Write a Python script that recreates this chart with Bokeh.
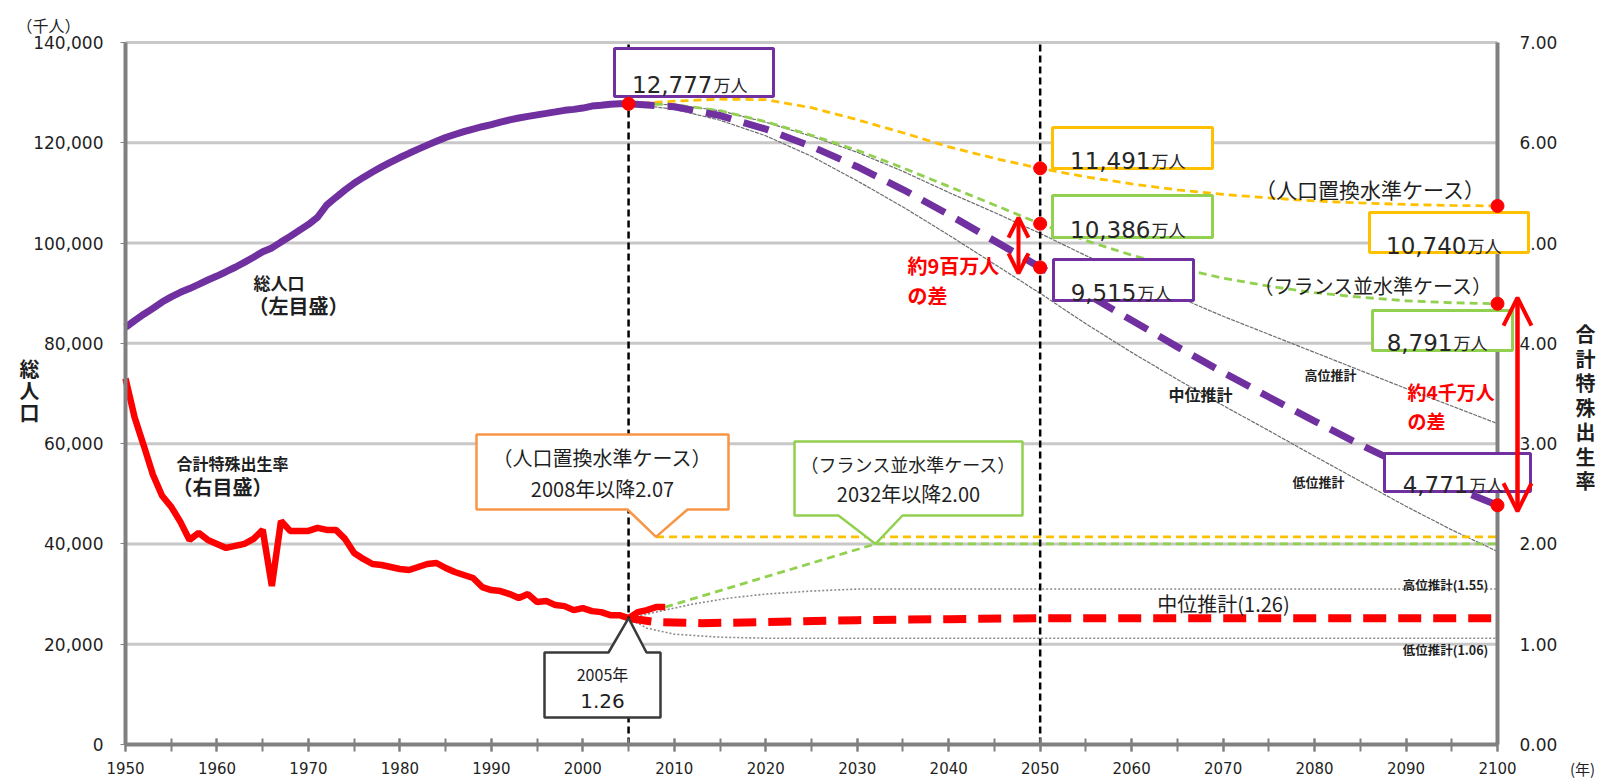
from bokeh.plotting import figure
from bokeh.models import (Range1d, LinearAxis, FixedTicker, NumeralTickFormatter, Label,
                          Arrow, OpenHead, PolyAnnotation, BoxAnnotation)
from bokeh.embed import file_html
from bokeh.resources import INLINE

# ---------------- data ----------------
# total population, thousands (actual)
years_actual = list(range(1950, 2006))
pop_actual = [83200, 84541, 85808, 86981, 88239, 89276, 90172, 90928, 91767, 92641,
              93419, 94287, 95181, 96156, 97182, 98275, 99036, 100196, 101331, 102536,
              103720, 105145, 107595, 109104, 110573, 111940, 113094, 114165, 115190, 116155,
              117060, 117902, 118728, 119536, 120305, 121049, 121660, 122239, 122745, 123205,
              123611, 124101, 124567, 124938, 125265, 125570, 125859, 126157, 126472, 126667,
              126926, 127316, 127486, 127694, 127787, 127768]

# total fertility rate (actual)
tfr_years = list(range(1950, 2010))
tfr_actual = [3.65, 3.26, 2.98, 2.69, 2.48, 2.37, 2.22, 2.04, 2.11, 2.04,
              2.00, 1.96, 1.98, 2.00, 2.05, 2.14, 1.58, 2.23, 2.13, 2.13,
              2.13, 2.16, 2.14, 2.14, 2.05, 1.91, 1.85, 1.80, 1.79, 1.77,
              1.75, 1.74, 1.77, 1.80, 1.81, 1.76, 1.72, 1.69, 1.66, 1.57,
              1.54, 1.53, 1.50, 1.46, 1.50, 1.42, 1.43, 1.39, 1.38, 1.34,
              1.36, 1.33, 1.32, 1.29, 1.29, 1.26, 1.32, 1.34, 1.37, 1.37]

# projected population, thousands
proj_years = [2005, 2010, 2015, 2020, 2025, 2030, 2035, 2040, 2045, 2050,
              2055, 2060, 2065, 2070, 2075, 2080, 2085, 2090, 2095, 2100]
pop_medium = [127768, 127176, 125430, 122735, 119270, 115224, 110679, 105695, 100443, 95152,
              89930, 84600, 79300, 74200, 69300, 64500, 59800, 55400, 51400, 47710]
pop_high = [127768, 127600, 126400, 124100, 121300, 118100, 114300, 110100, 106100, 101930,
            97500, 93300, 89300, 85400, 81800, 78200, 74600, 71000, 67500, 64000]
pop_low = [127768, 126700, 124500, 121400, 117300, 112400, 107200, 101600, 95800, 89970,
           83900, 78200, 72800, 67600, 62600, 57500, 52500, 47500, 42800, 38500]
pop_replacement = [127768, 128300, 128700, 128600, 127000, 124600, 122000, 119200, 116900, 114910,
                   113200, 111800, 110600, 109700, 109000, 108400, 108000, 107700, 107500, 107400]
pop_france = [127768, 127600, 126400, 124200, 121500, 118500, 115000, 111300, 107600, 103860,
              100500, 97600, 95100, 93000, 91400, 90100, 89200, 88500, 88100, 87910]

# projected fertility
tfr_med_years = [2005, 2008, 2013, 2020, 2030, 2040, 2050, 2100]
tfr_medium = [1.26, 1.22, 1.21, 1.22, 1.24, 1.25, 1.26, 1.26]
tfr_high_years = [2005, 2008, 2012, 2016, 2020, 2025, 2030, 2100]
tfr_high = [1.26, 1.32, 1.40, 1.46, 1.50, 1.53, 1.55, 1.55]
tfr_low_years = [2005, 2007, 2010, 2015, 2020, 2030, 2100]
tfr_low = [1.26, 1.16, 1.10, 1.07, 1.06, 1.06, 1.06]
tfr_repl_years = [2008, 2100]
tfr_repl = [2.07, 2.07]
tfr_france_years = [2009, 2032, 2100]
tfr_france = [1.37, 2.00, 2.00]

x_ticks = [1950, 1960, 1970, 1980, 1990, 2000, 2010, 2020, 2030, 2040, 2050, 2060, 2070, 2080, 2090, 2100]
x_minor = list(range(1950, 2101, 5))
pop_ticks = [0, 20000, 40000, 60000, 80000, 100000, 120000, 140000]
tfr_ticks = [0, 1, 2, 3, 4, 5, 6, 7]
ref_years = [2005, 2050]

# ---------------- layout ----------------
# the plotting frame fills the whole canvas; axes sit at fixed data locations
W, H = 1599, 779
FL, FR, FT, FB = 125, 1497, 42, 744      # pixel edges of the 1950-2100 x 0-140,000 area
X0, X1 = 1950, 2100
Y0, Y1 = 0, 140000
T1 = 7.0

def xd(px):
    return X0 + (px - FL) * (X1 - X0) / (FR - FL)

def yd(py):
    return Y0 + (FB - py) * (Y1 - Y0) / (FB - FT)

def td(py):
    return (FB - py) * T1 / (FB - FT)

def xp(year):
    return FL + (year - X0) * (FR - FL) / (X1 - X0)

def yp_tfr(v):
    return FB - v / T1 * (FB - FT)

PURPLE = "#7030A0"
RED = "#FF0000"
ORANGE = "#FFC000"
ORANGE_BOX = "#F79646"
GREEN = "#92D050"
GREY_LINE = "#6E6E6E"
AXIS = "#808080"
TEXT = "#1F1F1F"
JP = "Noto Sans CJK JP"
NUM = "DejaVu Sans"

p = figure(width=W, height=H, output_backend="svg", toolbar_location=None,
           x_range=Range1d(xd(0), xd(W)), y_range=Range1d(yd(H), yd(0)),
           min_border=0, x_axis_location=None, y_axis_location=None)
p.extra_y_ranges = {"tfr": Range1d(td(H), td(0))}
p.background_fill_color = "white"
p.border_fill_color = "white"
p.outline_line_color = None
p.xgrid.visible = False
p.ygrid.visible = False

ax = LinearAxis(fixed_location=0, bounds=(X0, X1), ticker=FixedTicker(ticks=x_ticks, minor_ticks=x_minor))
ax.axis_line_color = AXIS
ax.axis_line_width = 4
ax.major_tick_line_color = AXIS
ax.minor_tick_line_color = AXIS
ax.major_tick_line_width = 2
ax.minor_tick_line_width = 2
ax.major_tick_in = 6
ax.major_tick_out = 7
ax.minor_tick_in = 6
ax.minor_tick_out = 7
ax.major_label_standoff = 10
ax.major_label_text_font = NUM
ax.major_label_text_font_size = "15px"
ax.major_label_text_color = TEXT
p.add_layout(ax, "below")

ay = LinearAxis(fixed_location=X0, bounds=(Y0, Y1), ticker=FixedTicker(ticks=pop_ticks),
                formatter=NumeralTickFormatter(format="0,0"))
ay.axis_line_color = AXIS
ay.axis_line_width = 4
ay.major_tick_line_color = AXIS
ay.major_tick_in = 0
ay.major_tick_out = 5
ay.minor_tick_line_color = None
ay.major_label_standoff = 17
ay.major_label_text_font = NUM
ay.major_label_text_font_size = "17px"
ay.major_label_text_color = TEXT
p.add_layout(ay, "left")

ar = LinearAxis(y_range_name="tfr", fixed_location=X1, bounds=(0, T1),
                ticker=FixedTicker(ticks=tfr_ticks), formatter=NumeralTickFormatter(format="0.00"))
ar.axis_line_color = AXIS
ar.axis_line_width = 4
ar.major_tick_line_color = None
ar.minor_tick_line_color = None
ar.major_label_standoff = 16
ar.major_label_text_font = NUM
ar.major_label_text_font_size = "17px"
ar.major_label_text_color = TEXT
p.add_layout(ar, "right")

# horizontal grid lines (the top one closes the frame)
p.segment(x0=X0, x1=X1, y0=pop_ticks[1:], y1=pop_ticks[1:], line_color="#C8C8C8", line_width=3)

# ---------------- lines ----------------
# high / low variants (thin grey)
p.line(proj_years, pop_high, line_color=GREY_LINE, line_width=1.2, line_dash="4 1")
p.line(proj_years, pop_low, line_color=GREY_LINE, line_width=1.2, line_dash="4 1")
p.line(tfr_high_years, tfr_high, y_range_name="tfr", line_color="#8C8C8C", line_width=1.6, line_dash="2 2")
p.line(tfr_low_years, tfr_low, y_range_name="tfr", line_color="#8C8C8C", line_width=1.6, line_dash="2 2")

# replacement-level and France-level cases
p.line(proj_years, pop_replacement, line_color=ORANGE, line_width=2.8, line_dash="8 5")
p.line(proj_years, pop_france, line_color=GREEN, line_width=2.8, line_dash="8 5")
p.line(tfr_repl_years, tfr_repl, y_range_name="tfr", line_color=ORANGE, line_width=2.8, line_dash="8 5")
p.line(tfr_france_years, tfr_france, y_range_name="tfr", line_color=GREEN, line_width=2.8, line_dash="8 5")

# medium variant (thick dashed)
p.line(proj_years, pop_medium, line_color=PURPLE, line_width=7, line_dash="26 13")
p.line(tfr_med_years, tfr_medium, y_range_name="tfr", line_color=RED, line_width=8, line_dash="23 12")

# actual series
p.line(years_actual, pop_actual, line_color=PURPLE, line_width=7)
p.line(tfr_years, tfr_actual, y_range_name="tfr", line_color=RED, line_width=6.5)

# reference years
p.segment(x0=ref_years, x1=ref_years, y0=Y0, y1=Y1, line_color="black", line_width=2.5, line_dash="7 4")

# ---------------- callouts ----------------
def callout(left, top, right, bottom, base_l, base_r, tip_x, tip_y, color, down=True):
    if down:
        pts = [(left, top), (right, top), (right, bottom), (base_r, bottom), (tip_x, tip_y),
               (base_l, bottom), (left, bottom)]
    else:
        pts = [(left, top), (base_l, top), (tip_x, tip_y), (base_r, top), (right, top),
               (right, bottom), (left, bottom)]
    p.add_layout(PolyAnnotation(xs=[xd(a) for a, _ in pts], ys=[yd(b) for _, b in pts],
                                fill_color="white", fill_alpha=1.0, line_color=color,
                                line_width=2.5, line_alpha=1.0))

def text(px, py, s, size, color=TEXT, font=JP, style="normal", align="center", baseline="middle"):
    p.add_layout(Label(x=xd(px), y=yd(py), text=s, text_font=font, text_font_size=f"{size}px",
                       text_color=color, text_font_style=style, text_align=align,
                       text_baseline=baseline))

# replacement-level case, from 2008
tx, ty = xp(tfr_repl_years[0]), yp_tfr(tfr_repl[0])
callout(476, 434, 728, 509, 627, 687, tx, ty, ORANGE_BOX)
text(602, 457, "（人口置換水準ケース）", 20)
text(602, 488, f"{tfr_repl_years[0]}年以降{tfr_repl[0]:.2f}", 20)

# France-level case, from 2032
tx, ty = xp(tfr_france_years[1]), yp_tfr(tfr_france[1])
callout(794, 441, 1022, 515, 838, 902, tx, ty, GREEN)
text(908, 463, "（フランス並水準ケース）", 18)
text(908, 493, f"{tfr_france_years[1]}年以降{tfr_france[1]:.2f}", 20)

# 2005 actual fertility
i05 = tfr_years.index(2005)
tx, ty = xp(years_actual[-1]), yp_tfr(tfr_actual[i05])
callout(544, 652, 660, 717, 608, 646, tx, ty, "#3A3A3A", down=False)
text(602, 673, f"{years_actual[-1]}年", 16)
text(602, 700, f"{tfr_actual[i05]:.2f}", 20, font=NUM)

# ---------------- value boxes ----------------
def man(v):
    return f"{round(v / 10):,}"

def value_box(left, top, right, bottom, split, baseline, v, color):
    p.add_layout(BoxAnnotation(left=xd(left), right=xd(right), top=yd(top), bottom=yd(bottom),
                               fill_color="white", fill_alpha=1.0, line_color=color,
                               line_width=3, line_alpha=1.0))
    p.add_layout(Label(x=xd(split), y=yd(baseline), text=man(v), text_font=NUM,
                       text_font_size="23px", text_color="#262626", text_align="right",
                       text_baseline="alphabetic"))
    p.add_layout(Label(x=xd(split + 1), y=yd(baseline), text="万人", text_font=JP,
                       text_font_size="17px", text_color="#262626", text_align="left",
                       text_baseline="alphabetic"))

i50 = proj_years.index(2050)
value_box(614, 48, 773, 96, 712, 84, pop_actual[-1], PURPLE)
value_box(1052, 127, 1212, 168, 1150, 160, pop_replacement[i50], ORANGE)
value_box(1052, 195, 1212, 237, 1150, 229, pop_france[i50], GREEN)
value_box(1053, 259, 1193, 300, 1136, 292, pop_medium[i50], PURPLE)
value_box(1369, 212, 1528, 252, 1466, 245, pop_replacement[-1], ORANGE)
value_box(1372, 310, 1512, 350, 1452, 342, pop_france[-1], GREEN)
value_box(1384, 453, 1530, 491, 1468, 484, pop_medium[-1], PURPLE)

# end-point markers
p.scatter([2005, 2050, 2050, 2050, 2100, 2100, 2100],
          [pop_actual[-1], pop_replacement[i50], pop_france[i50], pop_medium[i50],
           pop_replacement[-1], pop_france[-1], pop_medium[-1]],
          size=13, color=RED, level="overlay")

# gap arrows
ext = yd(FB - 6) - yd(FB)
p.add_layout(Arrow(x_start=xd(1018), y_start=pop_medium[i50] - ext, x_end=xd(1018), y_end=pop_france[i50] + ext,
                   start=OpenHead(size=20, line_color=RED, line_width=4),
                   end=OpenHead(size=20, line_color=RED, line_width=4),
                   line_color=RED, line_width=4))
p.add_layout(Arrow(x_start=xd(1517), y_start=pop_medium[-1] - ext, x_end=xd(1517), y_end=pop_france[-1] + ext,
                   start=OpenHead(size=28, line_color=RED, line_width=4),
                   end=OpenHead(size=28, line_color=RED, line_width=4),
                   line_color=RED, line_width=4.5))

# ---------------- text annotations ----------------
text(907, 265, "約9百万人", 20, color=RED, style="bold", align="left")
text(907, 295, "の差", 20, color=RED, style="bold", align="left")
text(1407, 391, "約4千万人", 19, color=RED, style="bold", align="left")
text(1407, 420, "の差", 19, color=RED, style="bold", align="left")

text(253, 282, "総人口", 17, style="bold", align="left")
text(248, 305, "（左目盛）", 20, style="bold", align="left")
text(176, 462, "合計特殊出生率", 16, style="bold", align="left")
text(172, 486, "（右目盛）", 20, style="bold", align="left")

text(1370, 188, "（人口置換水準ケース）", 21)
text(1373, 285, "（フランス並水準ケース）", 20)

text(1200, 393, "中位推計", 16, style="bold")
text(1330, 374, "高位推計", 13, style="bold")
text(1318, 481, "低位推計", 13, style="bold")
text(1223, 603, "中位推計(1.26)", 20)
text(1445, 584, "高位推計(1.55)", 12.5, style="bold")
text(1445, 649, "低位推計(1.06)", 12.5, style="bold")

# axis titles
text(48, 24, "（千人）", 16)
for i, ch in enumerate("総人口"):
    text(29, 368 + i * 22, ch, 20, style="bold")
for i, ch in enumerate("合計特殊出生率"):
    text(1585, 333 + i * 24.5, ch, 20, style="bold")
text(1582, 768, "(年)", 15)

open("out.html", "w").write(file_html(p, INLINE))
